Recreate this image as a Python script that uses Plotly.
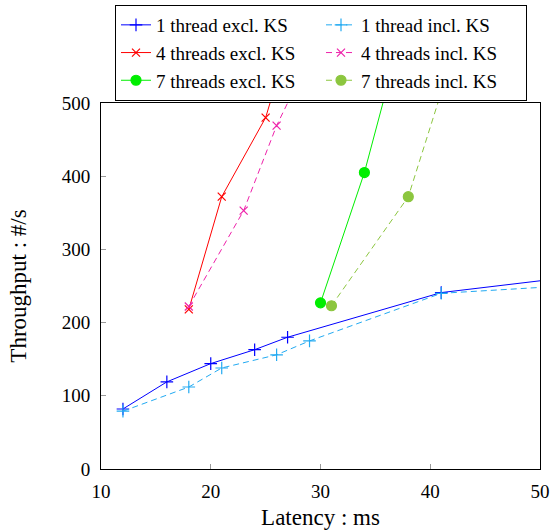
import plotly.graph_objects as go

# Latency (ms) vs. throughput (#/s) per thread count, with and without KS
x_1_excl = [12, 16, 20, 24, 27, 41, 60]
y_1_excl = [82, 119, 144, 163, 180, 241, 275]
x_1_incl = [12, 18, 21, 26, 29, 41, 60]
y_1_incl = [79, 112, 138, 156, 175, 240, 257]

x_4_excl = [18, 21, 25, 28]
y_4_excl = [218, 372, 480, 630]
x_4_incl = [18, 23, 26, 30]
y_4_incl = [222, 353, 469, 593]

x_7_excl = [30, 34, 38]
y_7_excl = [227, 405, 630]
x_7_incl = [31, 38, 42]
y_7_incl = [223, 372, 562]

x_ticks = [10, 20, 30, 40, 50]
y_ticks = [0, 100, 200, 300, 400, 500]

FONT = "Liberation Serif, serif"

series = [
    ("1 thread excl. KS", x_1_excl, y_1_excl, "#0000ff", "solid", "cross-thin-open", 9),
    ("1 thread incl. KS", x_1_incl, y_1_incl, "#22aaf2", "6px,4px", "cross-thin-open", 9),
    ("4 threads excl. KS", x_4_excl, y_4_excl, "#ff0000", "solid", "x-thin-open", 8),
    ("4 threads incl. KS", x_4_incl, y_4_incl, "#ee22aa", "6px,4px", "x-thin-open", 8),
    ("7 threads excl. KS", x_7_excl, y_7_excl, "#00ee00", "solid", "circle", 10),
    ("7 threads incl. KS", x_7_incl, y_7_incl, "#8cc63f", "6px,4px", "circle", 10),
]

fig = go.Figure()
for name, xs, ys, color, dash, symbol, size in series:
    fig.add_trace(go.Scatter(
        x=xs, y=ys, name=name, mode="lines+markers",
        line=dict(color=color, width=1, dash=dash),
        marker=dict(symbol=symbol, size=size, color=color,
                    line=dict(color=color, width=1.2)),
    ))

fig.update_layout(
    width=553, height=532,
    margin=dict(l=101, r=13, t=103, b=63, autoexpand=False),
    plot_bgcolor="white", paper_bgcolor="white",
    font=dict(family=FONT, size=19, color="black"),
    legend=dict(
        orientation="h",
        xref="container", x=321 / 553, xanchor="center",
        yref="container", y=1 - 5 / 532, yanchor="top",
        bordercolor="black", borderwidth=1, bgcolor="white",
        entrywidth=160, tracegroupgap=0,
        font=dict(family=FONT, size=19),
    ),
    showlegend=True,
)
fig.update_xaxes(
    range=[10, 50], tickvals=x_ticks, ticks="inside", ticklen=5,
    tickcolor="#999999", showgrid=False, zeroline=False,
    showline=True, linecolor="black", linewidth=1, mirror=True,
    ticklabelstandoff=5,
    title=dict(text="Latency : ms", standoff=8),
)
fig.update_yaxes(
    range=[0, 500], tickvals=y_ticks, ticks="inside", ticklen=5,
    tickcolor="#999999", showgrid=False, zeroline=False,
    showline=True, linecolor="black", linewidth=1, mirror=True,
    ticklabelstandoff=6,
    title=dict(text="Throughput : #/s", standoff=28),
)

fig.write_html("out.html")
